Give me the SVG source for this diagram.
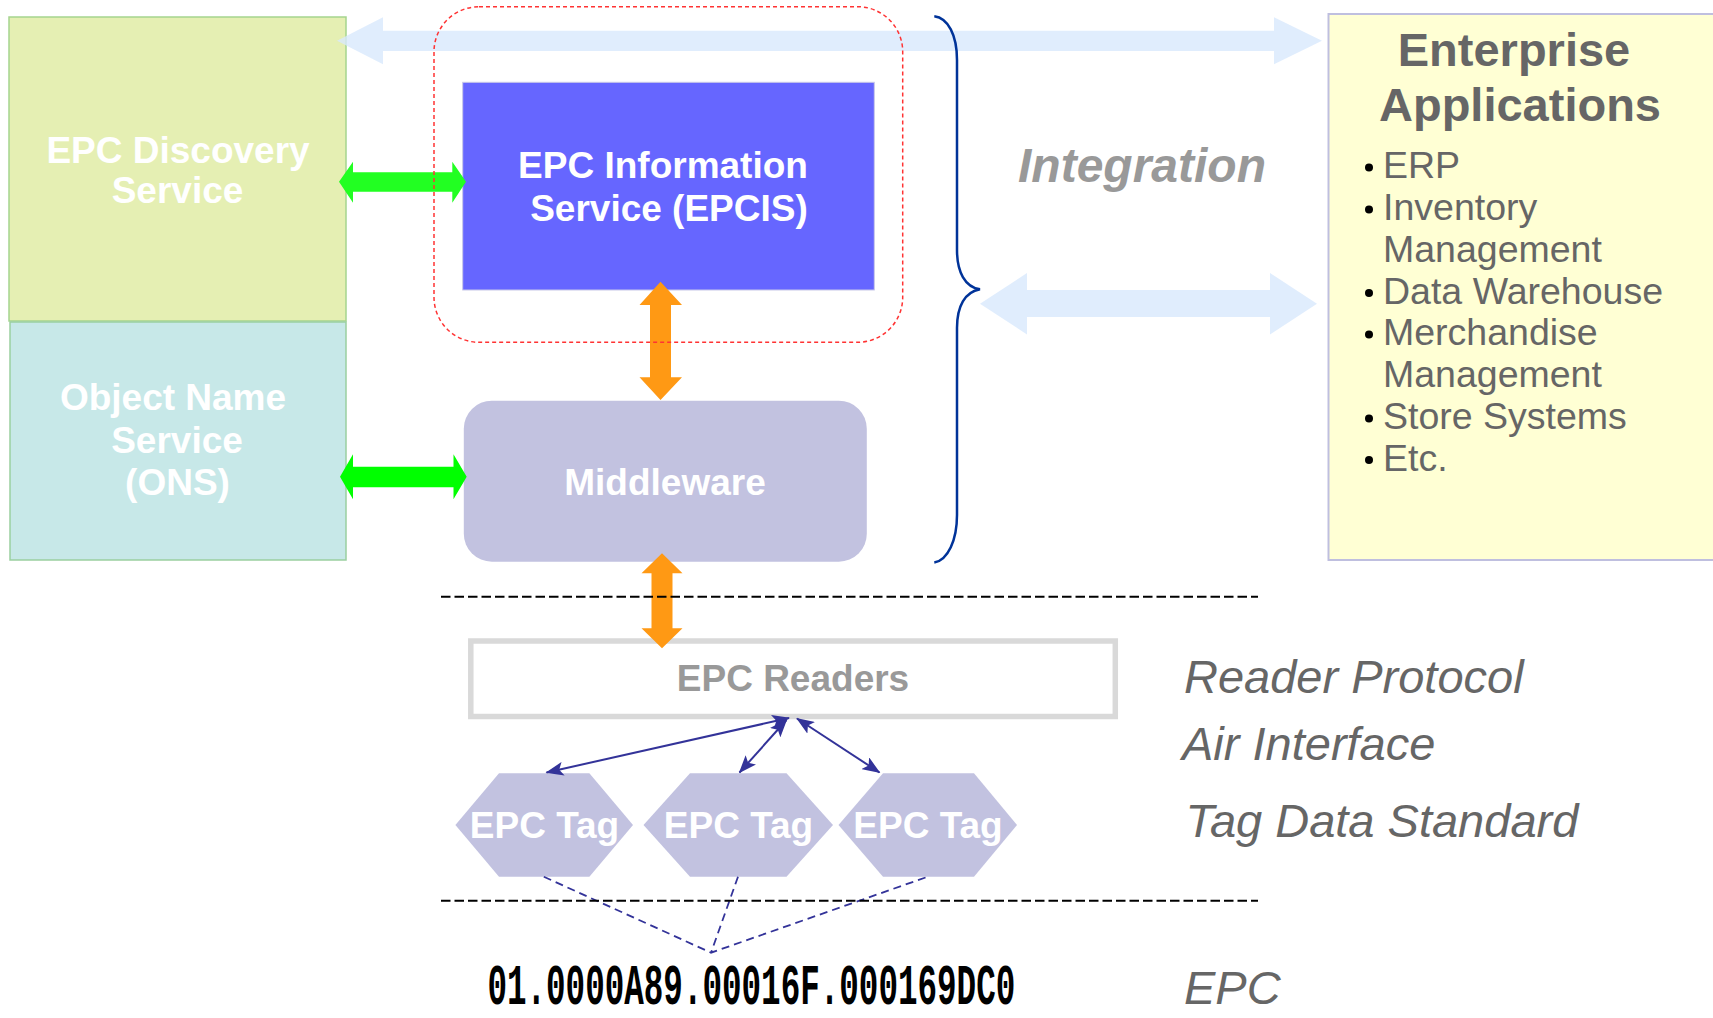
<svg xmlns="http://www.w3.org/2000/svg" width="1713" height="1018" viewBox="0 0 1713 1018">
  <style>
    .lbl { font-family: "Liberation Sans", Arial, sans-serif; font-weight: bold; font-size: 37px; fill: #ffffff; text-anchor: middle; }
    .side { font-family: "Liberation Sans", Arial, sans-serif; font-style: italic; font-size: 47px; fill: #666666; }
    .item { font-family: "Liberation Sans", Arial, sans-serif; font-size: 37.5px; fill: #666666; }
    .title { font-family: "Liberation Sans", Arial, sans-serif; font-weight: bold; font-size: 47px; fill: #666666; text-anchor: middle; }
    .wide { fill: #d8e8fc; opacity: 0.8; }
    .green { fill: #22ff22; }
    .orange { fill: #ff9914; }
    .air { stroke: #333399; stroke-width: 2; fill: none; marker-start: url(#head); marker-end: url(#head); }
    .link { stroke: #333399; stroke-width: 1.8; fill: none; stroke-dasharray: 8 5; }
    .sep { stroke: #000000; stroke-width: 2; stroke-dasharray: 9.5 4; fill: none; }
    .tag { fill: #c2c2e0; }
  </style>
  <defs>
    <marker id="head" viewBox="0 0 18 14" markerWidth="18" markerHeight="14" refX="17" refY="7" orient="auto-start-reverse" markerUnits="userSpaceOnUse">
      <path d="M0,0 L18,7 L0,14 L4,7 z" fill="#333399"/>
    </marker>
  </defs>

  <rect width="1713" height="1018" fill="#ffffff"/>

  <!-- left-hand services -->
  <g id="discovery">
    <rect x="9" y="17" width="337" height="304" fill="#e5efb3" stroke="#a5d58e" stroke-width="1.5"/>
    <text class="lbl" x="178" y="163">EPC Discovery</text>
    <text class="lbl" x="177.5" y="203">Service</text>
  </g>
  <g id="ons">
    <rect x="10" y="322" width="336" height="238" fill="#c7e8e8" stroke="#9acfa0" stroke-width="1.5"/>
    <text class="lbl" x="173" y="410">Object Name</text>
    <text class="lbl" x="177" y="453">Service</text>
    <text class="lbl" x="177.5" y="495">(ONS)</text>
  </g>

  <!-- central stack -->
  <g id="epcis">
    <rect x="462.7" y="82.3" width="411.6" height="207.7" fill="#6666ff" stroke="#c8c8e8" stroke-width="1"/>
    <text class="lbl" x="663" y="178">EPC Information</text>
    <text class="lbl" x="669" y="221">Service (EPCIS)</text>
  </g>
  <g id="middleware">
    <rect x="463.8" y="400.7" width="403" height="161" rx="28" ry="28" fill="#c2c2e0"/>
    <text class="lbl" x="665" y="495">Middleware</text>
  </g>
  <g id="readers">
    <rect x="470.8" y="641" width="644.5" height="75.5" fill="#ffffff" stroke="#d9d9d9" stroke-width="5.5"/>
    <text class="lbl" x="793" y="690.7" style="fill:#999999">EPC Readers</text>
  </g>
  <g id="tag1">
    <polygon class="tag" points="455.4,825 499,773.3 589.4,773.3 633,825 589.4,876.7 499,876.7"/>
    <text class="lbl" x="544.5" y="838">EPC Tag</text>
  </g>
  <g id="tag2">
    <polygon class="tag" points="643.5,825 690,773.3 786.5,773.3 833,825 786.5,876.7 690,876.7"/>
    <text class="lbl" x="738.5" y="838">EPC Tag</text>
  </g>
  <g id="tag3">
    <polygon class="tag" points="838.5,825 883,773.3 974,773.3 1017,825 974,876.7 883,876.7"/>
    <text class="lbl" x="928" y="838">EPC Tag</text>
  </g>
  <g id="epc-code">
    <!-- condensed monospace code, squeezed horizontally -->
    <text transform="translate(487.4,1004) scale(0.5718,1)" x="0" y="0" font-family="'Liberation Mono', 'Courier New', monospace" font-weight="bold" font-size="57" fill="#000000">01.0000A89.00016F.000169DC0</text>
  </g>

  <!-- right-hand applications -->
  <g id="enterprise">
    <rect x="1328.5" y="14" width="400" height="546" fill="#ffffd4" stroke="#bfbfdf" stroke-width="2"/>
    <text class="title" x="1514" y="66">Enterprise</text>
    <text class="title" x="1520" y="121">Applications</text>
    <g fill="#000000">
      <circle cx="1369" cy="167.5" r="4"/>
      <circle cx="1369" cy="209.5" r="4"/>
      <circle cx="1369" cy="293" r="4"/>
      <circle cx="1369" cy="334.5" r="4"/>
      <circle cx="1369" cy="418.5" r="4"/>
      <circle cx="1369" cy="460" r="4"/>
    </g>
    <text class="item" x="1383" y="178">ERP</text>
    <text class="item" x="1383" y="220">Inventory</text>
    <text class="item" x="1383" y="262">Management</text>
    <text class="item" x="1383" y="303.5">Data Warehouse</text>
    <text class="item" x="1383" y="345">Merchandise</text>
    <text class="item" x="1383" y="387">Management</text>
    <text class="item" x="1383" y="429">Store Systems</text>
    <text class="item" x="1383" y="470.5">Etc.</text>
  </g>

  <!-- connectors -->
  <g id="connectors">
    <polygon class="wide" points="337,40.8 383,17.3 383,30.7 1274,30.7 1274,17.3 1322,40.8 1274,64.3 1274,51 383,51 383,64.3"/>
    <polygon class="wide" points="980,303.8 1027,273 1027,290 1270,290 1270,273 1317,303.8 1270,334.5 1270,317 1027,317 1027,334.5"/>
    <polygon class="green" points="339,181.7 353,161.7 353,172.3 452.3,172.3 452.3,161.7 466,181.7 452.3,202.7 452.3,191.7 353,191.7 353,202.7"/>
    <polygon class="green" style="fill:#00ff00" points="340,476.7 353,454.3 353,466.7 453.5,466.7 453.5,454.3 466.7,476.7 453.5,499.3 453.5,487.3 353,487.3 353,499.3"/>
    <polygon class="orange" points="660.5,281.7 682,305 671,305 671,377.3 682,377.3 660.5,400 639.5,377.3 650,377.3 650,305 639.5,305"/>
    <polygon class="orange" points="662,553.3 682.5,573.3 672.5,573.3 672.5,628.3 682.5,628.3 662,648.3 641.5,628.3 651.5,628.3 651.5,573.3 641.5,573.3"/>
    <line class="air" x1="789" y1="718" x2="546.5" y2="772.5"/>
    <line class="air" x1="786.5" y1="720" x2="739.5" y2="772.5"/>
    <line class="air" x1="797" y1="718.5" x2="879.5" y2="772.5"/>
    <path class="link" d="M543.8,876.7 L711,952.7 L927.8,876.7 M738,876.7 L711,952.7"/>
  </g>

  <!-- EPCIS highlight outline -->
  <rect x="434" y="6.7" width="468.7" height="335.6" rx="45" ry="45" fill="none" stroke="#ff3333" stroke-width="1.5" stroke-dasharray="4 3"/>

  <!-- integration brace and labels -->
  <path d="M934.3,16.3 C948,18 957,35 957,60 L957,250 C957,272 965,287 980,289.3 C965,292 957,306 957,328 L957,515 C957,540 948,560 934.3,562.5" fill="none" stroke="#003399" stroke-width="2.5"/>
  <text x="1142" y="182" text-anchor="middle" font-family="'Liberation Sans', Arial, sans-serif" font-weight="bold" font-style="italic" font-size="48" fill="#999999">Integration</text>

  <!-- layer separators -->
  <line class="sep" x1="441" y1="596.7" x2="1258" y2="596.7"/>
  <line class="sep" x1="441" y1="900.7" x2="1258" y2="900.7"/>

  <text class="side" x="1184" y="693">Reader Protocol</text>
  <text class="side" x="1182" y="760">Air Interface</text>
  <text class="side" x="1185.5" y="837">Tag Data Standard</text>
  <text class="side" x="1184" y="1004">EPC</text>
</svg>
